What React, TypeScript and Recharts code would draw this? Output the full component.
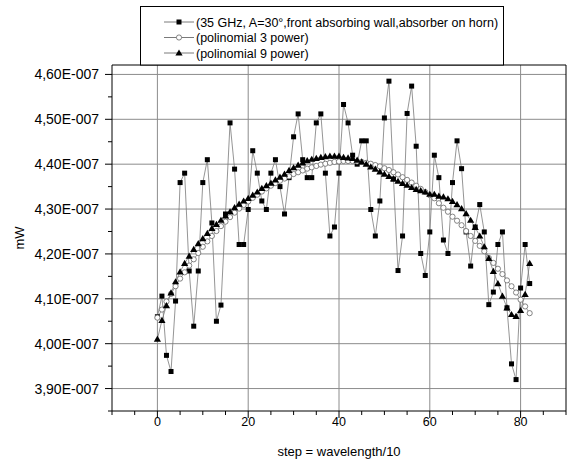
import { LineChart, Line, XAxis, YAxis, CartesianGrid, ReferenceLine } from 'recharts';

// Values are in units of 1E-7 mW; the tick formatter adds the exponent back.
const MEASURED = [
  4.060, 4.106, 3.974, 3.938, 4.095, 4.359, 4.380, 4.162, 4.039, 4.162,
  4.359, 4.410, 4.269, 4.050, 4.086, 4.289, 4.492, 4.389, 4.221, 4.221,
  4.299, 4.430, 4.380, 4.318, 4.299, 4.380, 4.410, 4.350, 4.289, 4.370,
  4.461, 4.512, 4.410, 4.370, 4.370, 4.492, 4.512, 4.380, 4.240, 4.260,
  4.380, 4.533, 4.492, 4.420, 4.400, 4.452, 4.452, 4.299, 4.240, 4.318,
  4.503, 4.585, 4.367, 4.163, 4.240, 4.513, 4.574, 4.440, 4.201, 4.152,
  4.249, 4.420, 4.370, 4.231, 4.201, 4.359, 4.452, 4.390, 4.249, 4.173,
  4.260, 4.310, 4.249, 4.087, 4.115, 4.221, 4.249, 4.080, 3.955, 3.920,
  4.124, 4.221, 4.134,
];

const POLY3 = [
  4.058, 4.076, 4.094, 4.111, 4.128, 4.145, 4.159, 4.174, 4.188, 4.202,
  4.216, 4.228, 4.240, 4.251, 4.262, 4.272, 4.282, 4.292, 4.301, 4.309,
  4.317, 4.325, 4.332, 4.339, 4.346, 4.352, 4.358, 4.363, 4.368, 4.373,
  4.378, 4.382, 4.386, 4.390, 4.393, 4.396, 4.399, 4.401, 4.403, 4.405,
  4.406, 4.407, 4.407, 4.407, 4.406, 4.405, 4.403, 4.401, 4.398, 4.395,
  4.391, 4.387, 4.382, 4.377, 4.371, 4.365, 4.359, 4.352, 4.345, 4.338,
  4.331, 4.324, 4.313, 4.303, 4.294, 4.283, 4.274, 4.264, 4.251, 4.240,
  4.229, 4.218, 4.206, 4.191, 4.180, 4.167, 4.155, 4.141, 4.128, 4.114,
  4.098, 4.083, 4.068,
];

const POLY9 = [
  4.010, 4.052, 4.085, 4.113, 4.138, 4.160, 4.179, 4.195, 4.210, 4.223,
  4.234, 4.246, 4.257, 4.266, 4.275, 4.285, 4.294, 4.303, 4.311, 4.318,
  4.324, 4.331, 4.338, 4.346, 4.352, 4.358, 4.365, 4.371, 4.378, 4.386,
  4.392, 4.398, 4.403, 4.408, 4.411, 4.413, 4.415, 4.417, 4.418, 4.418,
  4.418, 4.415, 4.414, 4.413, 4.409, 4.405, 4.400, 4.394, 4.389, 4.383,
  4.378, 4.373, 4.367, 4.362, 4.357, 4.353, 4.348, 4.344, 4.341, 4.338,
  4.333, 4.333, 4.329, 4.327, 4.323, 4.317, 4.310, 4.301, 4.290, 4.275,
  4.259, 4.240, 4.216, 4.190, 4.161, 4.134, 4.106, 4.080, 4.065, 4.061,
  4.074, 4.110, 4.179,
];

const SERIES_NAMES = [
  '(35 GHz, A=30°,front absorbing wall,absorber on horn)',
  '(polinomial 3 power)',
  '(polinomial 9 power)',
];

const X_TICKS = [-10, -5, 0, 5, 10, 15, 20, 25, 30, 35, 40, 45, 50, 55, 60, 65, 70, 75, 80, 85, 90];
const X_MAJOR = [0, 20, 40, 60, 80];
const Y_TICKS = [3.85, 3.9, 3.95, 4.0, 4.05, 4.1, 4.15, 4.2, 4.25, 4.3, 4.35, 4.4, 4.45, 4.5, 4.55, 4.6];
const Y_MAJOR = [3.9, 4.0, 4.1, 4.2, 4.3, 4.4, 4.5, 4.6];
const X_DOMAIN: [number, number] = [-10, 90];
const Y_DOMAIN: [number, number] = [3.85, 4.621];

const FONT = '"Liberation Sans", Arial, sans-serif';
const LINE_GRAY = '#7a7a7a';

const rows = MEASURED.map((m, i) => ({ step: i, measured: m, poly3: POLY3[i], poly9: POLY9[i] }));

const fmtY = (v: number) => v.toFixed(2).replace('.', ',') + 'E-007';

function XTick({ x = 0, y = 0, payload }: any) {
  const v = payload?.value;
  const major = X_MAJOR.includes(v);
  return (
    <g>
      <line x1={x} x2={x} y1={y} y2={y + (major ? 7 : 4)} stroke="#000" />
      {major && (
        <text x={x} y={y + 15} textAnchor="middle" fontSize={12.5} fontFamily={FONT} fill="#000">
          {v}
        </text>
      )}
    </g>
  );
}

function YTick({ x = 0, y = 0, payload }: any) {
  const v = payload?.value;
  const major = Y_MAJOR.some((m) => Math.abs(m - v) < 1e-6);
  return (
    <g>
      <line x1={x - (major ? 7 : 4)} x2={x} y1={y} y2={y} stroke="#000" />
      {major && (
        <text x={x - 13} y={y + 5} textAnchor="end" fontSize={14} fontFamily={FONT} fill="#000">
          {fmtY(v)}
        </text>
      )}
    </g>
  );
}

function SquareDot({ cx, cy }: any) {
  if (cx == null || cy == null) return null;
  return <rect x={cx - 2.5} y={cy - 2.5} width={5} height={5} fill="#000" />;
}

function CircleDot({ cx, cy }: any) {
  if (cx == null || cy == null) return null;
  return <circle cx={cx} cy={cy} r={2.6} fill="#fff" stroke="#666" strokeWidth={0.8} />;
}

function TriangleDot({ cx, cy }: any) {
  if (cx == null || cy == null) return null;
  return <polygon points={`${cx},${cy - 3.6} ${cx - 3.6},${cy + 2.6} ${cx + 3.6},${cy + 2.6}`} fill="#000" />;
}

function LegendBox() {
  const markers = [
    <rect key="s" x={176.5} y={-2.5} width={5} height={5} fill="#000" />,
    <circle key="c" cx={179} cy={0} r={2.6} fill="#fff" stroke="#666" strokeWidth={0.8} />,
    <polygon key="t" points="179,-3.6 175.4,2.6 182.6,2.6" fill="#000" />,
  ];
  return (
    <svg width={568} height={70} style={{ position: 'absolute', left: 0, top: 0 }}>
      <rect x={140.5} y={6.5} width={363} height={58.5} fill="#fff" stroke="#000" />
      {SERIES_NAMES.map((name, i) => (
        <g key={name} transform={`translate(0, ${22 + i * 15.5})`}>
          <line x1={164} x2={194} y1={0} y2={0} stroke={LINE_GRAY} />
          {markers[i]}
          <text x={196} y={4.5} fontSize={12.5} fontFamily={FONT} fill="#000">
            {name}
          </text>
        </g>
      ))}
    </svg>
  );
}

export default function App() {
  return (
    <div style={{ position: 'absolute', left: 0, top: 0, width: 568, height: 465, background: '#fff' }}>
      <LineChart width={568} height={465} data={rows} margin={{ top: 65, right: 2, bottom: 0, left: 0 }}>
        <CartesianGrid
          stroke="#8c8c8c"
          horizontalValues={Y_MAJOR}
          verticalValues={X_MAJOR}
        />
        <ReferenceLine x={X_DOMAIN[1]} stroke="#000" />
        <ReferenceLine y={Y_DOMAIN[1]} stroke="#000" />
        <XAxis
          type="number"
          dataKey="step"
          domain={X_DOMAIN}
          ticks={X_TICKS}
          interval={0}
          allowDataOverflow
          tick={<XTick />}
          tickLine={false}
          tickSize={0}
          tickMargin={0}
          axisLine={{ stroke: '#000' }}
          height={54}
          label={{
            content: ({ viewBox }: any) => (
              <text
                x={viewBox.x + viewBox.width / 2}
                y={viewBox.y + 45}
                textAnchor="middle"
                fontSize={13}
                fontFamily={FONT}
                fill="#000"
              >
                step = wavelength/10
              </text>
            ),
          }}
        />
        <YAxis
          type="number"
          domain={Y_DOMAIN}
          ticks={Y_TICKS}
          interval={0}
          allowDataOverflow
          tick={<YTick />}
          tickLine={false}
          tickSize={0}
          tickMargin={0}
          axisLine={{ stroke: '#000' }}
          width={112}
          label={{
            content: ({ viewBox }: any) => {
              const cx = viewBox.x + 24;
              const cy = viewBox.y + viewBox.height / 2;
              return (
                <text
                  x={cx}
                  y={cy}
                  transform={`rotate(-90 ${cx} ${cy})`}
                  textAnchor="middle"
                  fontSize={13}
                  fontFamily={FONT}
                  fill="#000"
                >
                  mW
                </text>
              );
            },
          }}
        />
        <Line
          dataKey="measured"
          stroke={LINE_GRAY}
          strokeWidth={0.8}
          dot={<SquareDot />}
          activeDot={false}
          isAnimationActive={false}
        />
        <Line
          dataKey="poly3"
          stroke={LINE_GRAY}
          strokeWidth={0.8}
          dot={<CircleDot />}
          activeDot={false}
          isAnimationActive={false}
        />
        <Line
          dataKey="poly9"
          stroke={LINE_GRAY}
          strokeWidth={0.8}
          dot={<TriangleDot />}
          activeDot={false}
          isAnimationActive={false}
        />
      </LineChart>
      <LegendBox />
    </div>
  );
}
